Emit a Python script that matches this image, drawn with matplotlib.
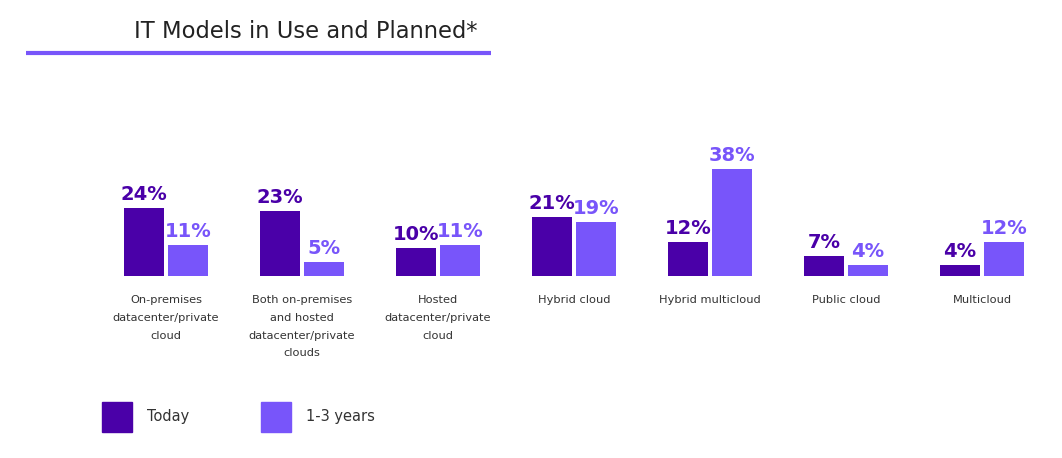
import matplotlib
matplotlib.use("Agg")
import matplotlib.pyplot as plt
from matplotlib.patches import Rectangle
from matplotlib.lines import Line2D

categories = ["On-premises\ndatacenter/private\ncloud",
              "Both on-premises\nand hosted\ndatacenter/private\nclouds",
              "Hosted\ndatacenter/private\ncloud",
              "Hybrid cloud",
              "Hybrid multicloud",
              "Public cloud",
              "Multicloud"]
today = [24, 23, 10, 21, 12, 7, 4]
future = [11, 5, 11, 19, 38, 4, 12]
series_names = ["Today", "1-3 years"]
title = "IT Models in Use and Planned*"

c_today = "#4a00a8"
c_future = "#7855fa"
txt = "#333333"

W, H = 1062, 458
fig = plt.figure(figsize=(W / 100, H / 100), dpi=100)
fig.patch.set_facecolor("white")

def fx(px):
    return px / W

def fy(py):
    return 1 - py / H

ppu = 2.82  # pixels per percent
base_px = 276
ax_h_px = 40 * ppu
ax = fig.add_axes([fx(98), fy(base_px), fx(952), ax_h_px / H])
ax.set_xlim(-0.5, 6.5)
ax.set_ylim(0, 40)
ax.axis("off")

bw = 40 / 136
off = 22 / 136
xs = list(range(len(categories)))
b1 = ax.bar([x - off for x in xs], today, width=bw, color=c_today)
b2 = ax.bar([x + off for x in xs], future, width=bw, color=c_future)

for bars, vals, col in [(b1, today, c_today), (b2, future, c_future)]:
    for b, v in zip(bars, vals):
        ax.annotate(f"{v}%", (b.get_x() + b.get_width() / 2, v),
                    xytext=(0, 3), textcoords="offset points",
                    ha="center", va="bottom", fontsize=14, fontweight="bold",
                    color=col, clip_on=False)

for x, c in zip(xs, categories):
    ax.annotate(c, (x, 0), xytext=(0, -14), textcoords="offset points",
                ha="center", va="top", fontsize=8.2, color=txt,
                linespacing=1.95, clip_on=False)

# title and underline
fig.text(fx(306), fy(31), title, ha="center", va="center", fontsize=16.3, color="#222222")
fig.add_artist(Line2D([fx(26), fx(491)], [fy(53), fy(53)], color=c_future, lw=3,
                      solid_capstyle="butt", transform=fig.transFigure))

# legend
for (x0, name, col) in [(102, series_names[0], c_today), (261, series_names[1], c_future)]:
    fig.add_artist(Rectangle((fx(x0), fy(432)), fx(30), 30 / H, color=col,
                             transform=fig.transFigure))
    fig.text(fx(x0 + 45), fy(417), name, ha="left", va="center", fontsize=10.5, color=txt)

fig.savefig("out.png", dpi=100, facecolor="white")
